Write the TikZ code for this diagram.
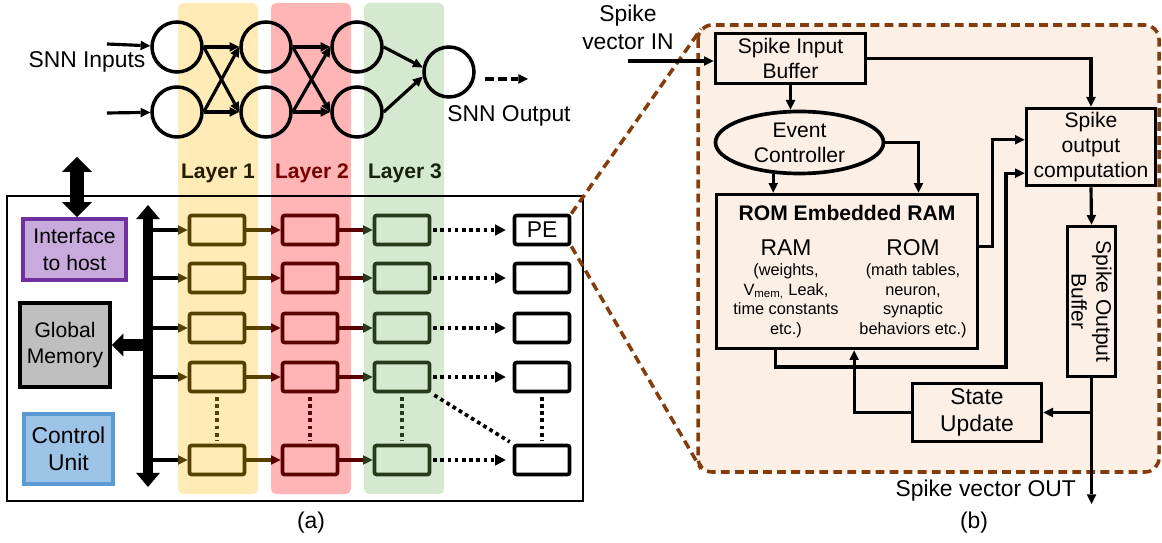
\documentclass[tikz,border=0pt]{standalone}
\usepackage{fontspec}
\setmainfont{Liberation Sans}
\usetikzlibrary{arrows.meta,shapes.geometric,calc}
\definecolor{bandy}{RGB}{255,235,181}
\definecolor{bandr}{RGB}{255,181,181}
\definecolor{bandg}{RGB}{213,232,208}
\definecolor{liney}{RGB}{84,64,0}
\definecolor{liner}{RGB}{90,0,0}
\definecolor{lineg}{RGB}{40,58,28}
\definecolor{texty}{RGB}{35,28,0}
\definecolor{textr}{RGB}{120,0,0}
\definecolor{textg}{RGB}{22,34,14}
\definecolor{hostfill}{RGB}{200,170,220}
\definecolor{hostline}{RGB}{112,48,160}
\definecolor{memfill}{RGB}{191,191,191}
\definecolor{ctrlfill}{RGB}{157,195,230}
\definecolor{ctrlline}{RGB}{91,155,213}
\definecolor{zoomline}{RGB}{132,60,12}
\definecolor{zoomfill}{RGB}{251,239,230}

\begin{document}
\begin{tikzpicture}[x=0.02cm,y=-0.02cm,line join=miter,
	>={Triangle[length=5.5pt,width=5.5pt,line width=0pt]},
	f/.style={font=\fontsize{12}{14.2}\selectfont,align=center},
	fbox/.style={font=\fontsize{12}{15.2}\selectfont,align=center},
	fbig/.style={font=\fontsize{13}{15.7}\selectfont,align=center},
	fsmall/.style={font=\fontsize{9.3}{11.1}\selectfont,align=center},
	fbold/.style={font=\bfseries\fontsize{12}{14}\selectfont},
	neuron/.style={circle,draw,line width=2pt,minimum size=1.0cm,inner sep=0pt},
	pe/.style={draw,line width=2.1pt,rounded corners=1.2pt,minimum width=1.1cm,minimum height=0.58cm,inner sep=0pt},
	ybox/.style={pe,draw=liney,fill=bandy},
	rbox/.style={pe,draw=liner,fill=bandr},
	gbox/.style={pe,draw=lineg,fill=bandg},
	pbox/.style={pe,fill=white,font=\fontsize{13}{15}\selectfont},
	blk/.style={draw,line width=2.1pt,inner sep=0pt},
	link/.style={line width=1.8pt},
	toy/.style={link,-{Triangle[length=5.5pt,width=5.5pt,line width=0pt,color=liney]}},
	tor/.style={link,liney,-{Triangle[length=5.5pt,width=5.5pt,line width=0pt,color=liner]}},
	tog/.style={link,liner,-{Triangle[length=5.5pt,width=5.5pt,line width=0pt,color=lineg]}},
	dotarrow/.style={line width=2.1pt,dash pattern=on 2.1pt off 2pt,-{Triangle[length=6pt,width=6.5pt,line width=0pt]},shorten <=1pt,shorten >=4pt},
	dots/.style={line width=2.1pt,dash pattern=on 2.1pt off 2pt,shorten <=2pt,shorten >=2pt},
	zoomdash/.style={zoomline,line width=2pt,dash pattern=on 5pt off 3pt}]
	\useasboundingbox (0,0) rectangle (1162,543);

	\fill[bandy,rounded corners=3pt] (178,3) rectangle (258,494);
	\fill[bandr,rounded corners=3pt] (271,3) rectangle (351,494);
	\fill[bandg,rounded corners=3pt] (364,3) rectangle (444,494);

	\node[neuron] (n11) at (177,47) {};
	\node[neuron] (n12) at (177,112) {};
	\node[neuron] (n21) at (266,47) {};
	\node[neuron] (n22) at (266,112) {};
	\node[neuron] (n31) at (357,47) {};
	\node[neuron] (n32) at (357,112) {};
	\node[neuron] (nout) at (449,72) {};
	\coordinate (in1) at (107,44);
	\coordinate (in2) at (107,113);
	\coordinate (o1) at (485,79);
	\coordinate (o2) at (528,79);
	\draw[->,link] (in1) -- (n11);
	\draw[->,link] (in2) -- (n12);
	\draw[->,link] (n11.east) -- (n21.west);
	\draw[->,link] (n11.east) -- (n22.west);
	\draw[->,link] (n12.east) -- (n21.west);
	\draw[->,link] (n12.east) -- (n22.west);
	\draw[->,link] (n21.east) -- (n31.west);
	\draw[->,link] (n21.east) -- (n32.west);
	\draw[->,link] (n22.east) -- (n31.west);
	\draw[->,link] (n22.east) -- (n32.west);
	\draw[->,link] (n31.east) -- (nout.170);
	\draw[->,link] (n32.east) -- (nout.190);
	\draw[->,line width=1.9pt,dash pattern=on 5pt off 2.5pt] (o1) -- (o2);
	\node[fbig] (snnin) at (87,62) {SNN Inputs};
	\node[fbig] (snnout) at (509,116) {SNN Output};
	\node[fbold,texty] (lay1) at (218,173) {Layer 1};
	\node[fbold,textr] (lay2) at (312,173) {Layer 2};
	\node[fbold,textg] (lay3) at (405,173) {Layer 3};

	\draw[line width=1.4pt] (7,196) rectangle (583,501);
	\node[blk,fill=hostfill,draw=hostline,fbox,minimum width=2.06cm,minimum height=1.22cm] (host) at (74.5,249.5) {Interface\\to host};
	\node[blk,fill=memfill,fbox,minimum width=1.8cm,minimum height=1.68cm] (mem) at (65,345) {Global\\Memory};
	\node[blk,fill=ctrlfill,draw=ctrlline,fbig,minimum width=1.78cm,minimum height=1.4cm] (ctrl) at (68.5,449) {Control\\Unit};
	\coordinate (hosttop) at (77,157);
	\coordinate (bust) at (148,205);
	\coordinate (busb) at (148,487);
	\coordinate (busx) at (153,0);
	\draw[line width=8pt,{Triangle[length=8.5pt,width=17pt,line width=0pt]}-{Triangle[length=8.5pt,width=17pt,line width=0pt]}] (hosttop) -- (hosttop |- host.north);
	\draw[line width=5.9pt,{Triangle[length=8pt,width=13.5pt,line width=0pt]}-{Triangle[length=8pt,width=13.5pt,line width=0pt]}] (bust) -- (busb);
	\draw[line width=7pt,-{Triangle[length=6.5pt,width=13pt,line width=0pt]}] (bust |- mem.east) -- (mem.east);

	\node[ybox] (y1) at (217,230) {};
	\node[ybox] (y2) at (217,278) {};
	\node[ybox] (y3) at (217,328) {};
	\node[ybox] (y4) at (217,377) {};
	\node[ybox] (y5) at (217,460) {};
	\node[rbox] (r1) at (310,230) {};
	\node[rbox] (r2) at (310,278) {};
	\node[rbox] (r3) at (310,328) {};
	\node[rbox] (r4) at (310,377) {};
	\node[rbox] (r5) at (310,460) {};
	\node[gbox] (g1) at (402,230) {};
	\node[gbox] (g2) at (402,278) {};
	\node[gbox] (g3) at (402,328) {};
	\node[gbox] (g4) at (402,377) {};
	\node[gbox] (g5) at (402,460) {};
	\node[pbox] (p1) at (542,230) {PE};
	\node[pbox] (p2) at (542,278) {};
	\node[pbox] (p3) at (542,328) {};
	\node[pbox] (p4) at (542,377) {};
	\node[pbox] (p5) at (542,460) {};

	\draw[toy] (y1.west -| busx) -- (y1.west);
	\draw[toy] (y2.west -| busx) -- (y2.west);
	\draw[toy] (y3.west -| busx) -- (y3.west);
	\draw[toy] (y4.west -| busx) -- (y4.west);
	\draw[toy] (y5.west -| busx) -- (y5.west);
	\draw[tor] (y1) -- (r1);
	\draw[tor] (y2) -- (r2);
	\draw[tor] (y3) -- (r3);
	\draw[tor] (y4) -- (r4);
	\draw[tor] (y5) -- (r5);
	\draw[tog] (r1) -- (g1);
	\draw[tog] (r2) -- (g2);
	\draw[tog] (r3) -- (g3);
	\draw[tog] (r4) -- (g4);
	\draw[tog] (r5) -- (g5);
	\draw[dotarrow] (g1) -- (p1);
	\draw[dotarrow] (g2) -- (p2);
	\draw[dotarrow] (g3) -- (p3);
	\draw[dotarrow] (g4) -- (p4);
	\draw[dotarrow] (g5) -- (p5);
	\draw[dots,liney] (y4) -- (y5);
	\draw[dots,liner] (r4) -- (r5);
	\draw[dots,lineg] (g4) -- (g5);
	\draw[dots] (p4) -- (p5);
	\draw[dots] (g4.south east) -- (p5.north west);
	\node[fbig] (capa) at (311,523) {(a)};

	\coordinate (ztl) at (701,29);
	\coordinate (zbl) at (701,469);
	\draw[zoomdash,fill=zoomfill,rounded corners=8pt] (698,25) rectangle (1159,472);
	\draw[zoomdash] (p1.north east) -- (ztl);
	\draw[zoomdash] (p1.south east) -- (zbl);

	\node[blk,f,minimum width=3.0cm,minimum height=1.0cm] (sib) at (790.5,58.5) {Spike Input\\Buffer};
	\node[blk,f,ellipse,minimum width=3.36cm,minimum height=1.24cm] (ec) at (799.5,142.5) {Event\\Controller};
	\node[blk,minimum width=5.22cm,minimum height=3.08cm] (rom) at (847,271.5) {};
	\node[blk,f,minimum width=2.58cm,minimum height=1.54cm] (soc) at (1091,147) {Spike\\output\\computation};
	\node[blk,f,rotate=-90,minimum width=3.0cm,minimum height=0.96cm] (sob) at (1091.5,301.5) {Spike Output\\Buffer};
	\node[blk,fbig,minimum width=2.58cm,minimum height=1.16cm] (su) at (977,412.5) {State\\Update};
	\node[fbold] (romtitle) at (847,213) {ROM Embedded RAM};
	\node[fbig] (ramhead) at (786,248) {RAM};
	\node[fbig] (romhead) at (913,248) {ROM};
	\node[fsmall] (ramtxt) at (786,301) {(weights,\\V\textsubscript{mem,} Leak,\\time constants\\etc.)};
	\node[fsmall] (romtxt) at (913,301) {(math tables,\\neuron,\\synaptic\\behaviors etc.)};
	\node[font=\fontsize{13}{16}\selectfont,align=center] (vin) at (628,27.5) {Spike\\vector IN};
	\node[font=\fontsize{13}{15}\selectfont,anchor=east] (vout) at (1082,491) {Spike vector OUT};
	\node[fbig] (capb) at (974,523) {(b)};

	\coordinate (iv) at (628,61);
	\coordinate (outend) at (1093,504);
	\coordinate (loop) at (1006,367);
	\coordinate (romn2) at ($(rom.north west)!0.77!(rom.north east)$);
	\coordinate (rome) at ($(rom.north east)!0.34!(rom.south east)$);
	\coordinate (roms1) at ($(rom.south west)!0.23!(rom.south east)$);
	\coordinate (roms2) at ($(rom.south west)!0.527!(rom.south east)$);
	\coordinate (socw1) at ($(soc.north west)!0.41!(soc.south west)$);
	\coordinate (socw2) at ($(soc.north west)!0.825!(soc.south west)$);
	\draw[->,link] (iv) -- (iv -| sib.west);
	\draw[->,link] (sib.south) -- (sib.south |- ec.north);
	\draw[->,link] (sib.east) -| (soc.north);
	\draw[->,link] (ec.230) -- (ec.230 |- rom.north);
	\draw[->,link] (ec.east) -| (romn2);
	\draw[->,link] (rome) -- ++(13,0) |- (socw1);
	\draw[->,link] (roms1) |- (loop) |- (socw2);
	\draw[->,link] (soc.south) -- (sob.west);
	\draw[->,link] (sob.east) -- (sob.east |- outend);
	\draw[->,link] (sob.east |- su.east) -- (su.east);
	\draw[->,link] (su.west) -| (roms2);
\end{tikzpicture}
\end{document}
